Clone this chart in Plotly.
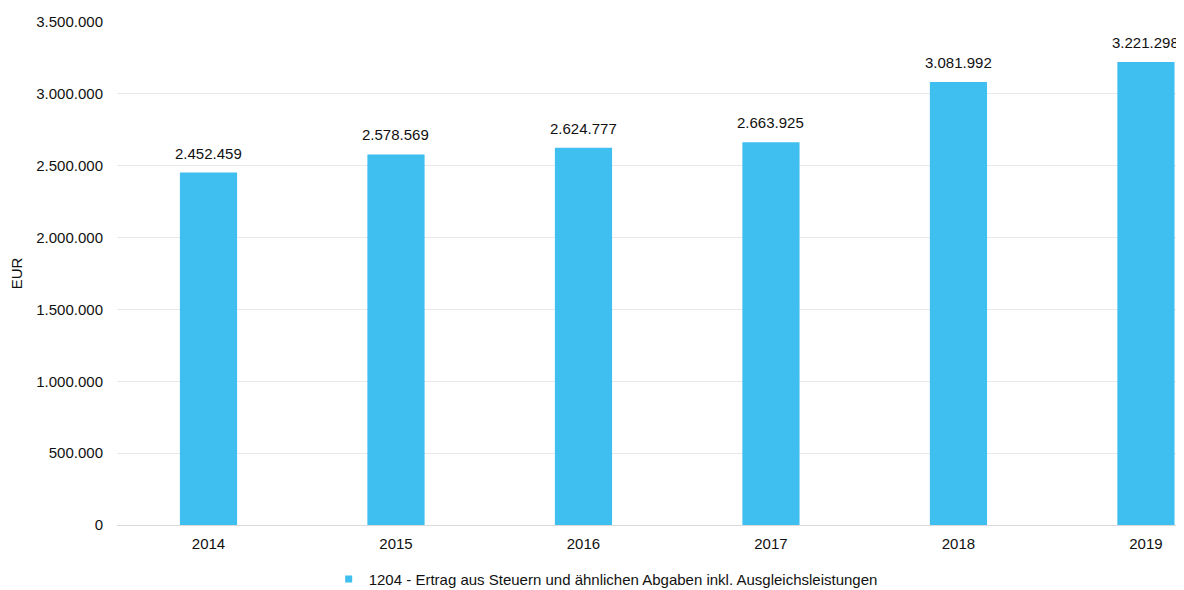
import plotly.graph_objects as go

years = ["2014", "2015", "2016", "2017", "2018", "2019"]
values = [2452459, 2578569, 2624777, 2663925, 3081992, 3221298]
series_name = "1204 - Ertrag aus Steuern und ähnlichen Abgaben inkl. Ausgleichsleistungen"
tick_vals = [0, 500000, 1000000, 1500000, 2000000, 2500000, 3000000, 3500000]

BAR_COLOR = "#3fbef0"
FONT = "Liberation Sans, Arial"

fig = go.Figure()
fig.add_trace(go.Bar(
    x=years, y=values, name=series_name,
    marker=dict(color=BAR_COLOR, line=dict(width=0)),
    width=0.305, showlegend=False,
))
# legend entry with a small square marker
fig.add_trace(go.Scatter(
    x=[years[0]], y=[None], mode="markers", name=series_name,
    marker=dict(symbol="square", size=7, color=BAR_COLOR),
    showlegend=True,
))

for i, v in enumerate(values):
    fig.add_annotation(
        x=i, y=v, xref="x", yref="y",
        text=f"{v:,}".replace(",", "."),
        showarrow=False, yanchor="bottom", yshift=9,
        font=dict(family=FONT, size=15, color="#111111"),
    )

fig.update_layout(
    width=1176, height=582,
    margin=dict(l=109, r=0, t=14, b=65, autoexpand=False),
    paper_bgcolor="white", plot_bgcolor="white",
    separators=",.",
    font=dict(family=FONT, size=15, color="#111111"),
    xaxis=dict(
        type="category", range=[-0.488, 5.203],
        showgrid=False, zeroline=False, showline=False,
        tickfont=dict(size=15), ticks="", ticklabelstandoff=8,
    ),
    yaxis=dict(
        range=[0, 3500000], tickvals=tick_vals, tickformat=",d",
        showgrid=True, gridcolor="#e8e8e8", gridwidth=1,
        zeroline=True, zerolinecolor="#d9d9d9", zerolinewidth=1,
        showline=False, tickfont=dict(size=15), ticks="",
        ticklabelstandoff=13,
        title=dict(text="EUR", font=dict(size=15), standoff=10),
    ),
    legend=dict(
        orientation="h", x=0.458, xanchor="center", xref="paper",
        y=-0.108, yanchor="middle",
        font=dict(size=15), itemwidth=30,
    ),
)

fig.write_html("out.html")
